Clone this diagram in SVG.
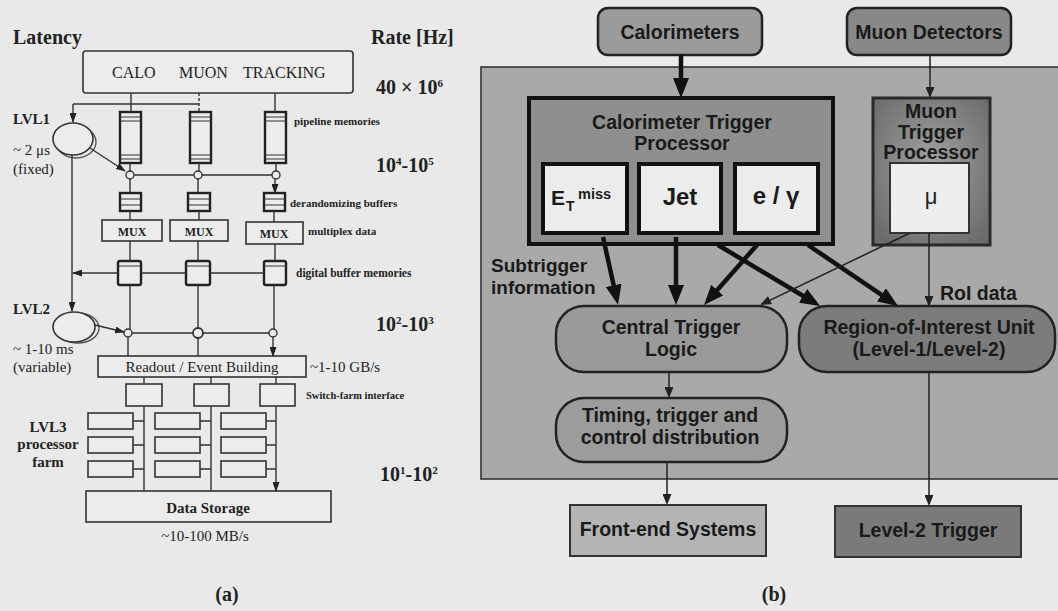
<svg xmlns="http://www.w3.org/2000/svg" width="1058" height="611" viewBox="0 0 1058 611">
<style>
.ser{font-family:"Liberation Serif","Times New Roman",serif;fill:#222}
.b{font-weight:bold}
.sans{font-family:"Liberation Sans",Arial,sans-serif;font-weight:bold;fill:#1a1a1a}
.ln{stroke:#333;stroke-width:1.4;fill:none}
.bx{stroke:#333;stroke-width:1.6;fill:#ececec}
.bx2{stroke:#222;stroke-width:2.4;fill:#ececec}
.st{stroke:#333;stroke-width:1.2}
.thk{stroke:#111;stroke-width:4.5;fill:none}
.thn{stroke:#222;stroke-width:1.5;fill:none}
.node{stroke:#222;stroke-width:2.5}
</style>
<defs>
<marker id="as" markerUnits="userSpaceOnUse" markerWidth="10" markerHeight="7" viewBox="0 0 10 7" refX="9" refY="3.5" orient="auto"><path d="M0,0 L10,3.5 L0,7 z" fill="#222"/></marker>
<marker id="ak" markerUnits="userSpaceOnUse" markerWidth="20" markerHeight="16" viewBox="0 0 20 16" refX="14" refY="8" orient="auto"><path d="M0,0 L20,8 L0,16 z" fill="#111"/></marker>
<marker id="an" markerUnits="userSpaceOnUse" markerWidth="11" markerHeight="9" viewBox="0 0 11 9" refX="9" refY="4.5" orient="auto"><path d="M0,0 L11,4.5 L0,9 z" fill="#222"/></marker>
<radialGradient id="mg" cx="0.5" cy="0.45" r="0.65"><stop offset="0" stop-color="#a2a2a2"/><stop offset="1" stop-color="#6c6c6c"/></radialGradient>
</defs>
<rect x="0" y="0" width="1058" height="611" fill="#e9e9e9"/>

<!-- ================= (a) ================= -->
<g id="a-labels">
<text class="ser b" x="13" y="44" font-size="20">Latency</text>
<text class="ser b" x="371" y="44" font-size="20">Rate [Hz]</text>
<text class="ser b" x="376" y="94" font-size="20">40 × 10<tspan font-size="11" dy="-7">6</tspan></text>
<text class="ser b" x="376" y="172" font-size="20">10<tspan font-size="11" dy="-7">4</tspan><tspan dy="7">-10</tspan><tspan font-size="11" dy="-7">5</tspan></text>
<text class="ser b" x="376" y="331" font-size="20">10<tspan font-size="11" dy="-7">2</tspan><tspan dy="7">-10</tspan><tspan font-size="11" dy="-7">3</tspan></text>
<text class="ser b" x="380" y="481" font-size="20">10<tspan font-size="11" dy="-7">1</tspan><tspan dy="7">-10</tspan><tspan font-size="11" dy="-7">2</tspan></text>
<text class="ser b" x="13" y="124" font-size="15">LVL1</text>
<text class="ser" x="13" y="155" font-size="15">~ 2 μs</text>
<text class="ser" x="13" y="174" font-size="15">(fixed)</text>
<text class="ser b" x="13" y="314" font-size="15">LVL2</text>
<text class="ser" x="13" y="354" font-size="15">~ 1-10 ms</text>
<text class="ser" x="13" y="372" font-size="15">(variable)</text>
<text class="ser b" x="48" y="432" font-size="15" text-anchor="middle">LVL3</text>
<text class="ser b" x="48" y="449" font-size="15" text-anchor="middle">processor</text>
<text class="ser b" x="48" y="467" font-size="15" text-anchor="middle">farm</text>
<text class="ser b" x="294" y="125" font-size="11">pipeline memories</text>
<text class="ser b" x="290" y="207" font-size="11">derandomizing buffers</text>
<text class="ser b" x="308" y="235" font-size="11">multiplex  data</text>
<text class="ser b" x="296" y="277" font-size="11.5">digital buffer memories</text>
<text class="ser" x="310" y="372" font-size="15">~1-10 GB/s</text>
<text class="ser b" x="306" y="399" font-size="10.5">Switch-farm interface</text>
<text class="ser" x="205" y="541" font-size="15" text-anchor="middle">~10-100 MB/s</text>
<text class="ser b" x="227" y="601" font-size="20" text-anchor="middle">(a)</text>
</g>

<g id="a-detectors">
<rect class="bx" x="83" y="51" width="270" height="42" rx="3"/>
<text class="ser" x="112" y="78" font-size="16">CALO</text>
<text class="ser" x="179" y="78" font-size="16">MUON</text>
<text class="ser" x="243" y="78" font-size="16">TRACKING</text>
</g>

<g id="a-lvl1">
<ellipse cx="76" cy="142" rx="20" ry="16" fill="none" stroke="#555" stroke-width="1.4"/>
<ellipse cx="73" cy="139" rx="20" ry="16" fill="#ececec" stroke="#333" stroke-width="1.6"/>
</g>
<g id="a-lvl2">
<ellipse cx="78" cy="328" rx="21" ry="15" fill="none" stroke="#555" stroke-width="1.4"/>
<ellipse cx="74" cy="327" rx="21" ry="15" fill="#ececec" stroke="#333" stroke-width="1.6"/>
</g>

<g id="a-pipelines">
<rect class="bx2" x="120" y="112" width="21" height="51"/>
<rect class="bx2" x="190" y="112" width="21" height="51"/>
<rect class="bx2" x="265" y="112" width="21" height="51"/>
<path class="st" d="M120,117h21M120,121h21M120,155h21M120,159h21M190,117h21M190,121h21M190,155h21M190,159h21M265,117h21M265,121h21M265,155h21M265,159h21"/>
</g>

<g id="a-derand">
<rect class="bx2" x="120" y="193" width="21" height="18"/>
<rect class="bx2" x="188" y="193" width="22" height="18"/>
<rect class="bx2" x="264" y="193" width="21" height="18"/>
<path class="st" d="M120,199h21M120,205h21M188,199h22M188,205h22M264,199h21M264,205h21"/>
</g>

<g id="a-mux">
<rect class="bx" x="102" y="220" width="60" height="21"/>
<rect class="bx" x="170" y="220" width="58" height="21"/>
<rect class="bx" x="246" y="222" width="57" height="22"/>
<text class="ser b" x="132" y="236" font-size="12" text-anchor="middle">MUX</text>
<text class="ser b" x="199" y="236" font-size="12" text-anchor="middle">MUX</text>
<text class="ser b" x="274" y="238" font-size="12" text-anchor="middle">MUX</text>
</g>

<g id="a-digbuf">
<rect class="bx2" x="118" y="261" width="23" height="24" rx="2"/>
<rect class="bx2" x="186" y="261" width="24" height="24" rx="2"/>
<rect class="bx2" x="264" y="261" width="22" height="24" rx="2"/>
<path class="st" d="M118,266h23M186,266h24M264,266h22"/>
</g>

<g id="a-readout">
<rect class="bx" x="98" y="356" width="208" height="21"/>
<text class="ser" x="202" y="372" font-size="15" text-anchor="middle">Readout / Event Building</text>
</g>

<g id="a-switch">
<rect class="bx" x="126" y="384" width="36" height="22"/>
<rect class="bx" x="194" y="384" width="35" height="22"/>
<rect class="bx" x="260" y="384" width="35" height="22"/>
</g>

<g id="a-farm">
<rect class="bx" x="88" y="413" width="45" height="16"/>
<rect class="bx" x="88" y="437" width="45" height="16"/>
<rect class="bx" x="88" y="461" width="45" height="16"/>
<rect class="bx" x="155" y="413" width="45" height="16"/>
<rect class="bx" x="155" y="437" width="45" height="16"/>
<rect class="bx" x="155" y="461" width="45" height="16"/>
<rect class="bx" x="221" y="413" width="45" height="16"/>
<rect class="bx" x="221" y="437" width="45" height="16"/>
<rect class="bx" x="221" y="461" width="45" height="16"/>
</g>

<g id="a-storage">
<rect class="bx" x="86" y="491" width="245" height="31"/>
<text class="ser b" x="208" y="513" font-size="15" text-anchor="middle">Data Storage</text>
</g>

<g id="a-connectors">
<path class="ln" d="M131,93V112M275,93V112"/>
<path class="ln" d="M199,93V112" stroke-dasharray="3,2"/>
<path class="ln" d="M73,104H199"/>
<path class="ln" d="M73,104V122" marker-end="url(#as)"/>
<path class="ln" d="M90,148L125,171" stroke-width="1.8" marker-end="url(#as)"/>
<path class="ln" d="M130,163V171M199,163V171M276,163V171"/>
<circle cx="130" cy="175" r="4" fill="#ececec" stroke="#333" stroke-width="1.4"/>
<circle cx="198" cy="175" r="4" fill="#ececec" stroke="#333" stroke-width="1.4"/>
<circle cx="276" cy="175" r="4" fill="#ececec" stroke="#333" stroke-width="1.4"/>
<path class="ln" d="M134,175H194M202,175H272"/>
<path class="ln" d="M130,179V193M198,179V193M275,179V193" marker-end="url(#as)"/>
<path class="ln" d="M130,211V220M199,211V220M274,211V222"/>
<path class="ln" d="M130,241V261M198,241V261M275,244V261"/>
<path class="ln" d="M141,273H186M210,273H264"/>
<path class="ln" d="M118,273H73" marker-end="url(#as)"/>
<path class="ln" d="M72,155V311" marker-end="url(#as)"/>
<path class="ln" d="M130,285V329M198,285V328M274,285V329"/>
<circle cx="128" cy="333" r="4" fill="#ececec" stroke="#333" stroke-width="1.4"/>
<circle cx="198" cy="333" r="5" fill="#ececec" stroke="#333" stroke-width="1.8"/>
<circle cx="273" cy="333" r="4" fill="#ececec" stroke="#333" stroke-width="1.4"/>
<path class="ln" d="M132,333H193M203,333H269"/>
<path class="ln" d="M95,325L124,332" stroke-width="1.8" marker-end="url(#as)"/>
<path class="ln" d="M128,337V356M198,338V356M273,337V356" marker-end="url(#as)"/>
<path class="ln" d="M144,377V384M211,377V384M276,377V384"/>
<path class="ln" d="M144,406V491M211,406V491M276,406V491" marker-end="url(#as)"/>
<path class="ln" d="M133,421H144M133,445H144M133,469H144M200,421H211M200,445H211M200,469H211M266,421H276M266,445H276M266,469H276"/>
</g>

<!-- ================= (b) ================= -->
<g id="b-frame">
<rect x="481" y="67" width="600" height="412" fill="#a9a9a9" stroke="#333" stroke-width="1.6"/>
</g>

<g id="b-calorimeters">
<rect class="node" x="598" y="8" width="164" height="47" rx="10" fill="#9b9b9b"/>
<text class="sans" x="680" y="39" font-size="19.5" text-anchor="middle">Calorimeters</text>
</g>
<g id="b-muondet">
<rect class="node" x="847" y="8" width="164" height="47" rx="10" fill="#888888"/>
<text class="sans" x="929" y="39" font-size="19.5" text-anchor="middle">Muon Detectors</text>
</g>

<g id="b-calotrig">
<rect x="529" y="98" width="304" height="146" fill="#8f8f8f" stroke="#111" stroke-width="4"/>
<text class="sans" x="682" y="129" font-size="19.5" text-anchor="middle">Calorimeter Trigger</text>
<text class="sans" x="682" y="150" font-size="19.5" text-anchor="middle">Processor</text>
</g>
<g id="b-etmiss">
<rect x="543" y="164" width="84" height="69" fill="#ececec" stroke="#111" stroke-width="4"/>
<text class="sans" x="551" y="205" font-size="21">E<tspan x="566" y="211" font-size="14">T</tspan><tspan x="578" y="199" font-size="14.5">miss</tspan></text>
</g>
<g id="b-jet">
<rect x="639" y="164" width="82" height="69" fill="#ececec" stroke="#111" stroke-width="4"/>
<text class="sans" x="680" y="205" font-size="24" text-anchor="middle">Jet</text>
</g>
<g id="b-egamma">
<rect x="735" y="164" width="83" height="69" fill="#ececec" stroke="#111" stroke-width="4"/>
<text class="sans" x="776" y="204" font-size="24" text-anchor="middle">e / γ</text>
</g>

<g id="b-muontrig">
<rect x="873" y="98" width="117" height="147" fill="url(#mg)" stroke="#2a2a2a" stroke-width="3"/>
<text class="sans" x="931" y="118" font-size="19.5" text-anchor="middle">Muon</text>
<text class="sans" x="931" y="139" font-size="19.5" text-anchor="middle">Trigger</text>
<text class="sans" x="931" y="159" font-size="19.5" text-anchor="middle">Processor</text>
</g>
<g id="b-mu">
<rect x="890" y="163" width="79" height="70" fill="#eeeeee" stroke="#333" stroke-width="2"/>
<text x="931" y="204" font-family="Liberation Sans, Arial, sans-serif" font-size="22" fill="#222" text-anchor="middle">μ</text>
</g>

<g id="b-ctl">
<rect class="node" x="556" y="306" width="231" height="66" rx="28" fill="#9a9a9a"/>
<text class="sans" x="671" y="334" font-size="19.5" text-anchor="middle">Central Trigger</text>
<text class="sans" x="671" y="356" font-size="19.5" text-anchor="middle">Logic</text>
</g>
<g id="b-roi">
<rect class="node" x="799" y="306" width="256" height="66" rx="28" fill="#7c7c7c"/>
<text class="sans" x="929" y="334" font-size="19.5" text-anchor="middle">Region-of-Interest Unit</text>
<text class="sans" x="929" y="356" font-size="19.5" text-anchor="middle">(Level-1/Level-2)</text>
</g>
<g id="b-ttc">
<rect class="node" x="556" y="398" width="231" height="64" rx="28" fill="#9c9c9c"/>
<text class="sans" x="670" y="422" font-size="19.5" text-anchor="middle">Timing, trigger and</text>
<text class="sans" x="670" y="444" font-size="19.5" text-anchor="middle">control distribution</text>
</g>
<g id="b-frontend">
<rect x="570" y="505" width="196" height="51" fill="#b4b4b4" stroke="#333" stroke-width="2"/>
<text class="sans" x="668" y="536" font-size="19.5" text-anchor="middle">Front-end Systems</text>
</g>
<g id="b-level2">
<rect x="835" y="506" width="186" height="51" fill="#7a7a7a" stroke="#333" stroke-width="2"/>
<text class="sans" x="928" y="537" font-size="19.5" text-anchor="middle">Level-2 Trigger</text>
</g>

<g id="b-labels">
<text class="sans" x="491" y="272" font-size="19">Subtrigger</text>
<text class="sans" x="491" y="294" font-size="19">information</text>
<text class="sans" x="940" y="300" font-size="19.5">RoI data</text>
<text class="ser b" x="774" y="601" font-size="20" text-anchor="middle">(b)</text>
</g>

<g id="b-connectors">
<path class="thk" d="M681,55V92" marker-end="url(#ak)"/>
<path class="thn" d="M930,55V96" marker-end="url(#an)"/>
<path class="thk" d="M603,237L616.7,299" marker-end="url(#ak)"/>
<path class="thk" d="M676,237V299" marker-end="url(#ak)"/>
<path class="thk" d="M757,245L708,300.5" marker-end="url(#ak)"/>
<path class="thk" d="M718,245L815,303" marker-end="url(#ak)"/>
<path class="thk" d="M808,245L893,302.6" marker-end="url(#ak)"/>
<path class="thn" d="M910,233L762,304" marker-end="url(#an)"/>
<path class="thn" d="M929,233V305" marker-end="url(#an)"/>
<path class="thn" d="M669,372V396" marker-end="url(#an)"/>
<path class="thn" d="M667,462V503" marker-end="url(#an)"/>
<path class="thn" d="M929,372V504" marker-end="url(#an)"/>
</g>
</svg>
